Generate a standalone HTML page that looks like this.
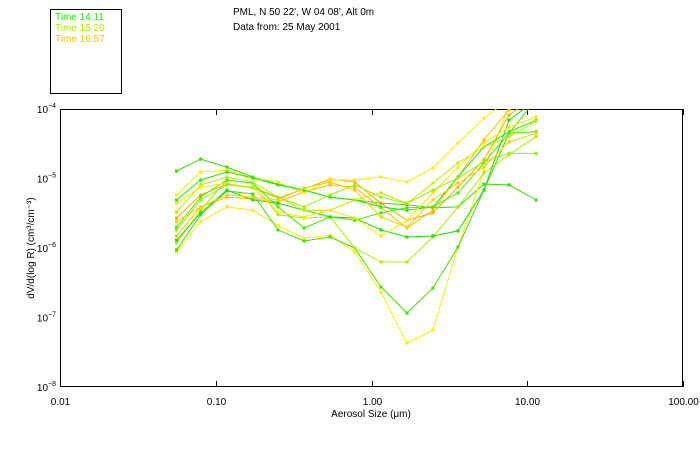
<!DOCTYPE html>
<html><head><meta charset="utf-8"><style>
html,body{margin:0;padding:0;background:#fff;}
svg{display:block;font-family:"Liberation Sans",sans-serif;}
</style></head><body>
<svg id="chart" width="700" height="450" viewBox="0 0 700 450">
<rect x="50.5" y="9.5" width="71" height="84" fill="none" stroke="#000"/>
<text x="55" y="20" font-size="10" fill="#22ee00">Time 14:11</text>
<text x="55" y="31" font-size="10" fill="#aaee00">Time 15:20</text>
<text x="55" y="42" font-size="10" fill="#ffbb00">Time 16:57</text>
<text x="233" y="15" font-size="10">PML, N 50 22', W 04 08', Alt 0m</text>
<text x="233" y="30" font-size="10">Data from: 25 May 2001</text>
<text x="371" y="417" font-size="10" text-anchor="middle">Aerosol Size (μm)</text>
<text transform="translate(34,248) rotate(-90)" font-size="10" text-anchor="middle">dV/d(log R) (cm³/cm⁻³)</text>
<g id="axes"></g>
<g id="series"></g>
</svg>
<script>
const xTickLabels = ["0.01","0.10","1.00","10.00","100.00"];
const yTickExps = ["-4","-5","-6","-7","-8"];
const sizes = [0.056,0.080,0.118,0.173,0.251,0.369,0.542,0.78,1.15,1.69,2.48,3.59,5.27,7.64,11.4];
const seriesA = [1.28e-5,1.9e-5,1.46e-5,1.05e-5,8.3e-6,6.8e-6,5.4e-6,4.9e-6,4.4e-6,4.2e-6,3.8e-6,3.9e-6,8.3e-6,8.1e-6,4.9e-6];
const seriesB = [8.8e-7,2.4e-6,3.9e-6,3.5e-6,2.1e-6,1.39e-6,1.53e-6,8.8e-7,2.33e-7,4.3e-8,6.6e-8,1.03e-6,1.3e-5,1.1e-4,2e-4];
const seriesC = [9.4e-7,3.0e-6,6.6e-6,6.0e-6,1.82e-6,1.26e-6,1.44e-6,1.0e-6,2.75e-7,1.16e-7,2.65e-7,1.03e-6,6.8e-6,4.5e-5,1.35e-4];
const seriesD = [1.18e-6,3.5e-6,9.5e-6,8.6e-6,3.0e-6,2.7e-6,2.8e-6,1.0e-6,6.3e-7,6.3e-7,1.44e-6,3.9e-6,1.2e-5,2.2e-5,4.0e-5];
const seriesE = [2.7e-6,5.8e-6,8.3e-6,7.3e-6,5.2e-6,7.1e-6,9.8e-6,8.9e-6,4.4e-6,2.5e-6,3.2e-6,7.5e-6,1.85e-5,8.2e-5,1.5e-4];
const seriesF = [1.49e-6,3.9e-6,5.4e-6,5.1e-6,4.6e-6,6.4e-6,8.1e-6,7.5e-6,3.8e-6,1.94e-6,3.5e-6,1.05e-5,3.6e-5,9.7e-5,1.6e-4];
const seriesG = [5.8e-6,1.24e-5,1.32e-5,1.02e-5,8.9e-6,6.2e-6,9.5e-6,9.5e-6,1.05e-5,8.9e-6,1.42e-5,3.25e-5,7.4e-5,1.35e-4,2e-4];
const seriesH = [4.9e-6,9.5e-6,1.24e-5,1.02e-5,8.1e-6,6.8e-6,5.4e-6,4.9e-6,3.9e-6,3.5e-6,3.9e-6,1.05e-5,2.85e-5,4.7e-5,6.9e-5];
const seriesI = [2.0e-6,5.4e-6,9.5e-6,8.6e-6,3.9e-6,1.94e-6,2.8e-6,2.5e-6,3.2e-6,3.8e-6,3.9e-6,6.2e-6,1.67e-5,4.5e-5,4.7e-5];
const seriesJ = [1.3e-6,3.2e-6,6.8e-6,4.9e-6,4.4e-6,3.5e-6,2.8e-6,2.7e-6,1.82e-6,1.44e-6,1.49e-6,1.76e-6,6.8e-6,6.9e-5,1.35e-4];
const seriesK = [3.3e-6,8.1e-6,1.05e-5,8.9e-6,5.4e-6,3.5e-6,3.5e-6,4.9e-6,6.2e-6,4.4e-6,8.6e-6,1.67e-5,2.85e-5,4.0e-5,6.7e-5];
const seriesL = [4.4e-6,7.5e-6,8.6e-6,7.3e-6,3.3e-6,2.8e-6,3.5e-6,2.7e-6,1.49e-6,2.5e-6,6.2e-6,1.46e-5,3.25e-5,5.5e-5,7.7e-5];
const seriesM = [1.82e-6,4.9e-6,8.1e-6,7.5e-6,5.4e-6,3.9e-6,5.8e-6,8.1e-6,5.4e-6,4.4e-6,6.8e-6,1.02e-5,1.73e-5,2.3e-5,2.3e-5];
const seriesN = [2.4e-6,3.9e-6,5.8e-6,5.4e-6,4.9e-6,7.3e-6,8.9e-6,6.8e-6,2.8e-6,2.0e-6,4.9e-6,8.6e-6,1.46e-5,3.35e-5,4.5e-5];
const allSeries = [seriesA,seriesB,seriesC,seriesD,seriesE,seriesF,seriesG,seriesH,seriesI,seriesJ,seriesK,seriesL,seriesM,seriesN];
const seriesColors = ["#33dd00","#ffee00","#44dd00","#aaee00","#ffaa00","#ffbb00","#ffee00","#22ee00","#44ee00","#22dd00","#bbee00","#ffe800","#99ee00","#ffcc00"];

const L=60,R=683,T=109,B=387;
const xS = v => L + (Math.log10(v)+2)/4*(R-L);
const yS = v => T + (-4-Math.log10(v))/4*(B-T);
const NS="http://www.w3.org/2000/svg";
const svg=document.getElementById('chart');
const axes=document.getElementById('axes');
const sg=document.getElementById('series');
function mk(tag,attrs,parent){const e=document.createElementNS(NS,tag);for(const k in attrs)e.setAttribute(k,attrs[k]);parent.appendChild(e);return e;}

const defs=mk('defs',{},svg);
const cp=mk('clipPath',{id:'plotclip'},defs);
mk('rect',{x:L,y:T,width:R-L,height:B-T},cp);
sg.setAttribute('clip-path','url(#plotclip)');

const frame=mk('rect',{x:L+0.5,y:T+0.5,width:R-L-1,height:B-T-1,fill:'none',stroke:'#000'},axes);



xTickLabels.forEach((lab,i)=>{
  const x=Math.round(xS(parseFloat(lab)))+0.5;
  const t1=mk('line',{x1:x,x2:x,y1:B,y2:B-6,stroke:'#000'},axes);
  
  
  const t2=mk('line',{x1:x,x2:x,y1:T,y2:T+6,stroke:'#000'},axes);
  
  
  const tx=mk('text',{x:x,y:B+18,'font-size':10,'text-anchor':'middle'},axes);
  tx.textContent=lab;
  
  
});
yTickExps.forEach(ex=>{
  const y=yS(Math.pow(10,parseFloat(ex)));
  const tx=mk('text',{x:L-4,y:y+4,'font-size':10,'text-anchor':'end'},axes);
  
  
  const a=mk('tspan',{},tx);a.textContent='10';
  const b=mk('tspan',{dy:-5,'font-size':7},tx);b.textContent=ex.replace('-','−');
});

allSeries.forEach((s,i)=>{
  const g=mk('g',{},sg);
  
  
  const pts=s.map((v,j)=>xS(sizes[j]).toFixed(1)+','+yS(v).toFixed(1)).join(' ');
  const pl=mk('polyline',{points:pts,fill:'none',stroke:seriesColors[i],'stroke-width':1},g);
  
  
  s.forEach((v,j)=>{
    const r=mk('rect',{x:xS(sizes[j])-1.5,y:yS(v)-1.5,width:3,height:3,fill:seriesColors[i]},g);
    
    
  });
});
</script>
</body></html>
